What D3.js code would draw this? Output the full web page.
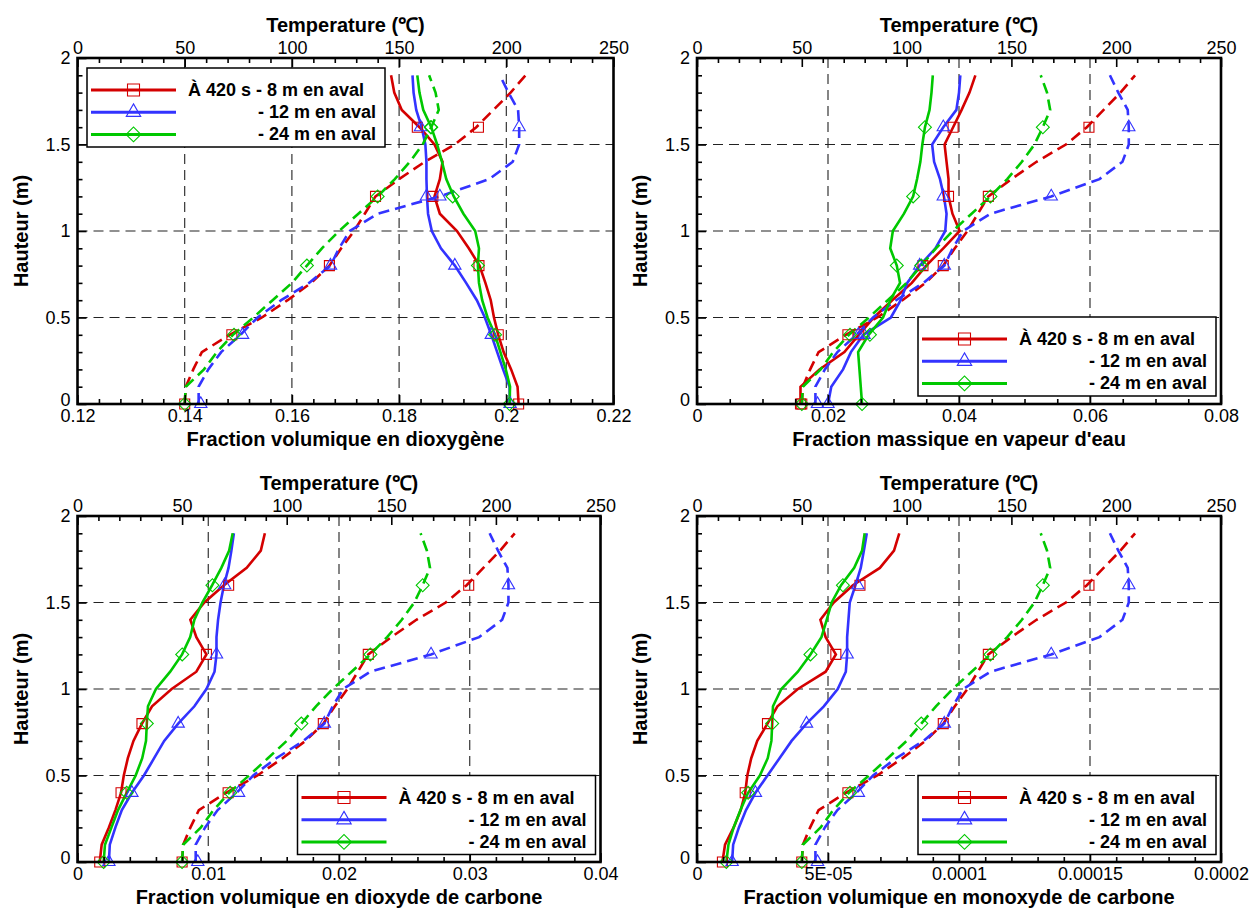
<!DOCTYPE html>
<html>
<head>
<meta charset="utf-8">
<script src="https://cdn.jsdelivr.net/npm/d3@7"></script>
<style>
  html, body { margin: 0; padding: 0; background: #ffffff; }
  svg { display: block; font-family: "Liberation Sans", Arial, Helvetica, sans-serif; }
</style>
</head>
<body>
<svg id="chart" width="1254" height="911"></svg>
<script>
// ---------------- DATA ----------------
// Heights (m) of the profile points
const heights = [0, 0.1, 0.2, 0.3, 0.4, 0.5, 0.6, 0.7, 0.8, 0.9, 1.0, 1.1, 1.2, 1.3, 1.4, 1.5, 1.6, 1.7, 1.8, 1.9];
// Heights of the symbols
const markerHeights = [0, 0.4, 0.8, 1.2, 1.6];

// Temperature profiles (°C), dashed lines, top axis
const temp8m  = [50, 50.5, 54, 58, 71, 86, 98, 109, 117.5, 123, 129, 134, 139, 150, 162, 176, 186, 194, 202, 209];
const temp12m = [56.5, 56.5, 61, 67, 76, 84, 95, 108, 118, 122, 127, 140, 169, 192, 203, 206, 206, 205.5, 201, 197];
const temp24m = [50, 50.5, 59, 65, 72.5, 82, 91, 100, 107, 114, 122, 131, 140, 148, 155, 161, 165, 168.5, 167, 164];
const temp8mMarks  = [50, 72, 117.5, 139, 187];
const temp12mMarks = [57.5, 77, 118, 169, 206];
const temp24mMarks = [50, 73, 107, 140, 165];

// Volume fraction of O2
const o2_8m  = [0.2023, 0.2021, 0.2009, 0.1995, 0.1985, 0.1977, 0.1971, 0.1961, 0.1950, 0.1930, 0.1908, 0.1876, 0.1866, 0.1876, 0.1881, 0.1866, 0.1838, 0.1805, 0.1791, 0.1785];
const o2_12m = [0.2007, 0.2006, 0.1994, 0.1983, 0.1972, 0.1960, 0.1945, 0.1925, 0.1904, 0.1878, 0.1861, 0.1854, 0.1852, 0.1851, 0.1851, 0.1849, 0.1842, 0.1832, 0.1827, 0.1825];
const o2_24m = [0.2006, 0.2007, 0.1999, 0.1989, 0.1979, 0.1965, 0.1955, 0.1949, 0.1947, 0.1949, 0.1942, 0.1920, 0.1902, 0.1888, 0.1880, 0.1871, 0.1860, 0.1845, 0.1838, 0.1834];
const o2_8mMarks  = [0.2023, 0.1985, 0.1949, 0.1863, 0.1834];
const o2_12mMarks = [0.2007, 0.1972, 0.1904, 0.1851, 0.1840];
const o2_24mMarks = [0.2006, 0.1979, 0.1947, 0.1900, 0.1859];

// Mass fraction of water vapour
const h2o_8m  = [0.0158, 0.0158, 0.0187, 0.0225, 0.0247, 0.0270, 0.0298, 0.0328, 0.0350, 0.0376, 0.0401, 0.0390, 0.0384, 0.0384, 0.0381, 0.0378, 0.0391, 0.0404, 0.0416, 0.0425];
const h2o_12m = [0.0200, 0.0205, 0.0223, 0.0235, 0.0254, 0.0296, 0.0311, 0.0321, 0.0340, 0.0364, 0.0379, 0.0381, 0.0377, 0.0371, 0.0362, 0.0359, 0.0376, 0.0396, 0.0400, 0.0402];
const h2o_24m = [0.0252, 0.0250, 0.0248, 0.0246, 0.0262, 0.0284, 0.0295, 0.0310, 0.0305, 0.0295, 0.0299, 0.0316, 0.0330, 0.0336, 0.0341, 0.0344, 0.0348, 0.0355, 0.0358, 0.0360];
const h2o_8mMarks  = [0.0158, 0.0247, 0.0345, 0.0384, 0.0391];
const h2o_12mMarks = [0.0200, 0.0255, 0.0340, 0.0376, 0.0376];
const h2o_24mMarks = [0.0252, 0.0264, 0.0305, 0.0330, 0.0348];

// Volume fraction of CO2
const co2_8m  = [0.0017, 0.00185, 0.0024, 0.0029, 0.00333, 0.00354, 0.00385, 0.00428, 0.00493, 0.0057, 0.0072, 0.00909, 0.00986, 0.00909, 0.00863, 0.0097, 0.0112, 0.01294, 0.01402, 0.01433];
const co2_12m = [0.0024, 0.00247, 0.0029, 0.00339, 0.00416, 0.00508, 0.00586, 0.00663, 0.0077, 0.00894, 0.00986, 0.01048, 0.01063, 0.01063, 0.01075, 0.01094, 0.0112, 0.01155, 0.01177, 0.01196];
const co2_24m = [0.0020, 0.0021, 0.0026, 0.0031, 0.00376, 0.00445, 0.00495, 0.00524, 0.0053, 0.00539, 0.0060, 0.00709, 0.0080, 0.00862, 0.00894, 0.00955, 0.0103, 0.0110, 0.0116, 0.01187];
const co2_8mMarks  = [0.0017, 0.00333, 0.00493, 0.00986, 0.01156];
const co2_12mMarks = [0.0024, 0.00416, 0.0077, 0.01063, 0.01125];
const co2_24mMarks = [0.0020, 0.00376, 0.0053, 0.00801, 0.01032];

// Volume fraction of CO
const co_8m  = [0.97e-5, 1.07e-5, 1.40e-5, 1.67e-5, 1.84e-5, 1.92e-5, 2.07e-5, 2.30e-5, 2.69e-5, 3.07e-5, 3.85e-5, 4.91e-5, 5.30e-5, 4.91e-5, 4.71e-5, 5.22e-5, 5.95e-5, 6.98e-5, 7.52e-5, 7.72e-5];
const co_12m = [1.34e-5, 1.38e-5, 1.60e-5, 1.87e-5, 2.23e-5, 2.69e-5, 3.15e-5, 3.61e-5, 4.18e-5, 4.84e-5, 5.37e-5, 5.68e-5, 5.73e-5, 5.73e-5, 5.78e-5, 5.83e-5, 6.05e-5, 6.25e-5, 6.37e-5, 6.48e-5];
const co_24m = [1.12e-5, 1.20e-5, 1.40e-5, 1.66e-5, 1.95e-5, 2.40e-5, 2.70e-5, 2.84e-5, 2.87e-5, 2.90e-5, 3.22e-5, 3.85e-5, 4.33e-5, 4.75e-5, 4.95e-5, 5.14e-5, 5.50e-5, 6.00e-5, 6.30e-5, 6.40e-5];
const co_8mMarks  = [0.97e-5, 1.84e-5, 2.69e-5, 5.30e-5, 6.22e-5];
const co_12mMarks = [1.34e-5, 2.23e-5, 4.18e-5, 5.73e-5, 6.14e-5];
const co_24mMarks = [1.12e-5, 1.95e-5, 2.87e-5, 4.33e-5, 5.57e-5];

// Tick values / labels
const tempTicks = [0, 50, 100, 150, 200, 250];
const heightTicks = [0, 0.5, 1, 1.5, 2];
const heightTickLabels = ["0", "0.5", "1", "1.5", "2"];
const o2Ticks = [0.12, 0.14, 0.16, 0.18, 0.20, 0.22];
const o2TickLabels = ["0.12", "0.14", "0.16", "0.18", "0.2", "0.22"];
const h2oTicks = [0, 0.02, 0.04, 0.06, 0.08];
const h2oTickLabels = ["0", "0.02", "0.04", "0.06", "0.08"];
const co2Ticks = [0, 0.01, 0.02, 0.03, 0.04];
const co2TickLabels = ["0", "0.01", "0.02", "0.03", "0.04"];
const coTicks = [0, 5e-5, 1e-4, 1.5e-4, 2e-4];
const coTickLabels = ["0", "5E-05", "0.0001", "0.00015", "0.0002"];

const seriesNames = ["À 420 s - 8 m en aval", "- 12 m en aval", "- 24 m en aval"];
const colors = ["#d40000", "#3333ff", "#00c800"];
const symbolTypes = ["square", "triangle", "diamond"];

// ---------------- LAYOUT ----------------
const panels = [
  { left: 77.5, top: 58, width: 536, xDomain: [0.12, 0.22], ticks: o2Ticks, tickLabels: o2TickLabels, minorStep: 0.004,
    title: "Fraction volumique en dioxygène",
    solids: [o2_8m, o2_12m, o2_24m], solidMarks: [o2_8mMarks, o2_12mMarks, o2_24mMarks],
    legend: { x: 87, y: 68 } },
  { left: 697, top: 58, width: 524, xDomain: [0, 0.08], ticks: h2oTicks, tickLabels: h2oTickLabels, minorStep: 0.005,
    title: "Fraction massique en vapeur d'eau",
    solids: [h2o_8m, h2o_12m, h2o_24m], solidMarks: [h2o_8mMarks, h2o_12mMarks, h2o_24mMarks],
    legend: { x: 918, y: 317 } },
  { left: 77.5, top: 516, width: 523, xDomain: [0, 0.04], ticks: co2Ticks, tickLabels: co2TickLabels, minorStep: 0.002,
    title: "Fraction volumique en dioxyde de carbone",
    solids: [co2_8m, co2_12m, co2_24m], solidMarks: [co2_8mMarks, co2_12mMarks, co2_24mMarks],
    legend: { x: 297.5, y: 775.5 } },
  { left: 697, top: 516, width: 524, xDomain: [0, 0.0002], ticks: coTicks, tickLabels: coTickLabels, minorStep: 1e-5,
    title: "Fraction volumique en monoxyde de carbone",
    solids: [co_8m, co_12m, co_24m], solidMarks: [co_8mMarks, co_12mMarks, co_24mMarks],
    legend: { x: 918, y: 775.5 } }
];
const plotHeight = 346;
const temps = [temp8m, temp12m, temp24m];
const tempMarks = [temp8mMarks, temp12mMarks, temp24mMarks];

const svg = d3.select("#chart");

function symbolPath(type, big) {
  if (type === "square") return d3.symbol(d3.symbolSquare, big ? 144 : 100)();
  if (type === "triangle") return d3.symbol(d3.symbolTriangle, big ? 90 : 66)();
  return d3.symbol(d3.symbolSquare, big ? 110 : 84)();
}
function symbolTransform(type, x, y) {
  return type === "diamond" ? `translate(${x},${y}) rotate(45)` : `translate(${x},${y})`;
}
function minorValues(domain, step, majors) {
  const out = [];
  const n = Math.round((domain[1] - domain[0]) / step);
  for (let i = 0; i <= n; i++) {
    const v = domain[0] + i * step;
    if (!majors.some(m => Math.abs(m - v) < step * 0.01)) out.push(v);
  }
  return out;
}

panels.forEach(p => {
  const x = d3.scaleLinear().domain(p.xDomain).range([p.left, p.left + p.width]);
  const xt = d3.scaleLinear().domain([0, 250]).range([p.left, p.left + p.width]);
  const y = d3.scaleLinear().domain([0, 2]).range([p.top + plotHeight, p.top]);
  const bottom = p.top + plotHeight;
  const g = svg.append("g");

  // grid
  const grid = g.append("g").attr("stroke", "#222").attr("stroke-width", 1.1).attr("stroke-dasharray", "10,6");
  p.ticks.slice(1, -1).forEach(v => {
    grid.append("line").attr("x1", x(v)).attr("x2", x(v)).attr("y1", p.top).attr("y2", bottom);
  });
  [0.5, 1, 1.5].forEach(v => {
    grid.append("line").attr("x1", p.left).attr("x2", p.left + p.width).attr("y1", y(v)).attr("y2", y(v));
  });

  // curves
  const lineSolid = d3.line().x(d => x(d[1])).y(d => y(d[0]));
  const lineTemp = d3.line().x(d => xt(d[1])).y(d => y(d[0]));
  for (let i = 0; i < 3; i++) {
    g.append("path").attr("d", lineTemp(heights.map((h, k) => [h, temps[i][k]])))
      .attr("fill", "none").attr("stroke", colors[i]).attr("stroke-width", 2.6).attr("stroke-dasharray", "11,6");
    g.append("path").attr("d", lineSolid(heights.map((h, k) => [h, p.solids[i][k]])))
      .attr("fill", "none").attr("stroke", colors[i]).attr("stroke-width", 2.6);
  }
  for (let i = 0; i < 3; i++) {
    markerHeights.forEach((h, k) => {
      g.append("path").attr("d", symbolPath(symbolTypes[i], false))
        .attr("transform", symbolTransform(symbolTypes[i], xt(tempMarks[i][k]), y(h)))
        .attr("fill", "none").attr("stroke", colors[i]).attr("stroke-width", 1.1);
      g.append("path").attr("d", symbolPath(symbolTypes[i], false))
        .attr("transform", symbolTransform(symbolTypes[i], x(p.solidMarks[i][k]), y(h)))
        .attr("fill", "none").attr("stroke", colors[i]).attr("stroke-width", 1.1);
    });
  }

  // axes
  const styleAxis = sel => {
    sel.select(".domain").remove();
    sel.selectAll(".tick line").attr("stroke", "#000").attr("stroke-width", 1.6);
    sel.selectAll(".tick text").attr("fill", "#000").attr("font-size", 18);
  };
  g.append("g").attr("transform", `translate(0,${bottom})`)
    .call(d3.axisBottom(x).tickValues(p.ticks).tickFormat((d, i) => p.tickLabels[i]).tickSize(-9).tickPadding(5))
    .call(styleAxis);
  g.append("g").attr("transform", `translate(0,${bottom})`)
    .call(d3.axisBottom(x).tickValues(minorValues(p.xDomain, p.minorStep, p.ticks)).tickFormat("").tickSize(-5))
    .call(styleAxis);
  g.append("g").attr("transform", `translate(0,${p.top})`)
    .call(d3.axisTop(xt).tickValues(tempTicks).tickFormat(d3.format("d")).tickSize(-9).tickPadding(4))
    .call(styleAxis);
  g.append("g").attr("transform", `translate(0,${p.top})`)
    .call(d3.axisTop(xt).tickValues(minorValues([0, 250], 10, tempTicks)).tickFormat("").tickSize(-5))
    .call(styleAxis);
  const leftAxis = g.append("g").attr("transform", `translate(${p.left},0)`)
    .call(d3.axisLeft(y).tickValues(heightTicks).tickFormat((d, i) => heightTickLabels[i]).tickSize(-9).tickPadding(7))
    .call(styleAxis);
  // lift the bottom "0" slightly, as in the reference, so it sits beside the x labels
  leftAxis.selectAll(".tick text").filter(d => d === 0).attr("dy", "0.1em");
  g.append("g").attr("transform", `translate(${p.left},0)`)
    .call(d3.axisLeft(y).tickValues(minorValues([0, 2], 0.1, heightTicks)).tickFormat("").tickSize(-5))
    .call(styleAxis);

  // frame
  g.append("rect").attr("x", p.left).attr("y", p.top).attr("width", p.width).attr("height", plotHeight)
    .attr("fill", "none").attr("stroke", "#000").attr("stroke-width", 2.6);

  // titles
  const cx = p.left + p.width / 2;
  g.append("text").attr("x", cx).attr("y", p.top - 33).attr("text-anchor", "middle").attr("dominant-baseline", "central")
    .attr("font-size", 20).attr("font-weight", "bold").text("Temperature (℃)");
  g.append("text").attr("x", cx).attr("y", bottom + 35).attr("text-anchor", "middle").attr("dominant-baseline", "central")
    .attr("font-size", 20).attr("font-weight", "bold").text(p.title);
  g.append("text").attr("transform", `translate(${p.left - 57},${p.top + plotHeight / 2}) rotate(-90)`)
    .attr("text-anchor", "middle").attr("dominant-baseline", "central")
    .attr("font-size", 20).attr("font-weight", "bold").text("Hauteur (m)");

  // legend
  const L = g.append("g").attr("transform", `translate(${p.legend.x},${p.legend.y})`);
  L.append("rect").attr("x", 0).attr("y", 0).attr("width", 298).attr("height", 79)
    .attr("fill", "#fff").attr("stroke", "#000").attr("stroke-width", 1.5);
  for (let i = 0; i < 3; i++) {
    const ry = 22 + i * 22.2;
    L.append("line").attr("x1", 4).attr("x2", 89).attr("y1", ry).attr("y2", ry)
      .attr("stroke", colors[i]).attr("stroke-width", 3);
    L.append("path").attr("d", symbolPath(symbolTypes[i], true))
      .attr("transform", symbolTransform(symbolTypes[i], 46.5, ry))
      .attr("fill", "none").attr("stroke", colors[i]).attr("stroke-width", 1.1);
    const t = L.append("text").attr("y", ry).attr("dominant-baseline", "central")
      .attr("font-size", 18).attr("font-weight", "bold").text(seriesNames[i]);
    if (i === 0) t.attr("x", 101); else t.attr("x", 289).attr("text-anchor", "end");
  }
});
</script>
</body>
</html>
